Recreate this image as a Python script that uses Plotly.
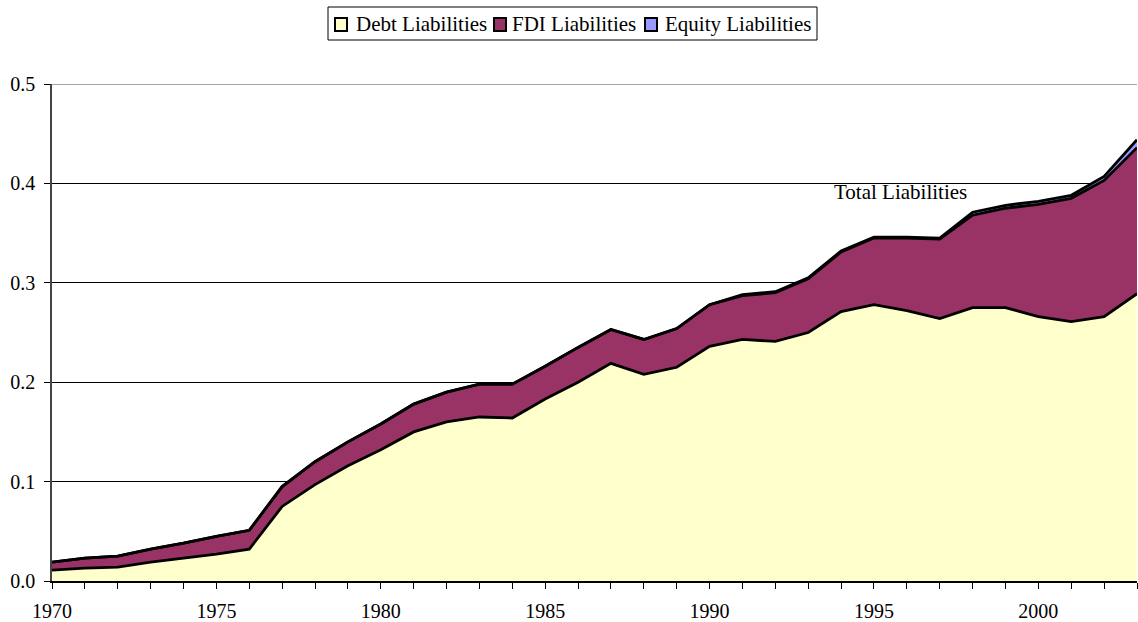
import plotly.graph_objects as go

years = list(range(1970, 2004))
debt = [0.011, 0.013, 0.014, 0.019, 0.023, 0.027, 0.032, 0.075, 0.097, 0.116,
        0.132, 0.150, 0.160, 0.165, 0.164, 0.183, 0.200, 0.219, 0.208, 0.215,
        0.236, 0.243, 0.241, 0.250, 0.271, 0.278, 0.272, 0.264, 0.275, 0.275,
        0.266, 0.261, 0.266, 0.289]
total_fdi_top = [0.019, 0.023, 0.025, 0.032, 0.038, 0.045, 0.051, 0.095, 0.120, 0.140,
                 0.158, 0.178, 0.190, 0.198, 0.198, 0.216, 0.235, 0.253, 0.243, 0.254,
                 0.278, 0.287, 0.290, 0.304, 0.331, 0.345, 0.345, 0.344, 0.368, 0.375,
                 0.379, 0.385, 0.403, 0.436]
fdi = [round(t - d, 4) for t, d in zip(total_fdi_top, debt)]
equity = [0.000, 0.000, 0.000, 0.000, 0.000, 0.000, 0.000, 0.000, 0.000, 0.000,
          0.000, 0.000, 0.000, 0.000, 0.000, 0.000, 0.000, 0.000, 0.000, 0.000,
          0.000, 0.001, 0.001, 0.001, 0.001, 0.001, 0.001, 0.001, 0.003, 0.003,
          0.003, 0.003, 0.004, 0.008]

names = ["Debt Liabilities", "FDI Liabilities", "Equity Liabilities"]
colors = ["#FFFFCC", "#993366", "#9999FF"]

font = "Liberation Serif, Times New Roman, serif"
W, H = 1138, 622
ML, MR, MT, MB = 52, 1, 84, 41
PW, PH = W - ML - MR, H - MT - MB


def px(x):
    return (x - ML) / PW


def py(y):
    return (H - MB - y) / PH


fig = go.Figure()
for name, vals, col in zip(names, [debt, fdi, equity], colors):
    fig.add_trace(go.Scatter(x=years, y=vals, name=name, stackgroup="one",
                             mode="lines", fillcolor=col, showlegend=False,
                             line=dict(color="black", width=2.8)))

fig.add_annotation(x=1995.8, y=0.391, text="Total Liabilities", showarrow=False,
                   font=dict(family=font, size=21, color="black"))

# legend drawn manually (box, swatches, labels)
fig.add_shape(type="rect", xref="paper", yref="paper", x0=px(328), x1=px(817),
              y0=py(40), y1=py(7), line=dict(color="black", width=1), fillcolor="white")
sw_left = [335, 494, 645]
txt_left = [354, 510, 663]
for name, col, sx, tx in zip(names, colors, sw_left, txt_left):
    fig.add_shape(type="rect", xref="paper", yref="paper", x0=px(sx), x1=px(sx + 12),
                  y0=py(31), y1=py(18), line=dict(color="black", width=2), fillcolor=col)
    fig.add_annotation(x=px(tx), y=py(24), xref="paper", yref="paper", text=name,
                       showarrow=False, xanchor="left", yanchor="middle",
                       font=dict(family=font, size=21, color="black"))

fig.update_layout(
    width=W, height=H,
    paper_bgcolor="white", plot_bgcolor="white",
    margin=dict(l=ML, r=MR, t=MT, b=MB, autoexpand=False),
    font=dict(family=font, size=20, color="black"),
    showlegend=False,
    xaxis=dict(range=[1970, 2003], tickmode="linear", tick0=1970, dtick=5,
               ticks="outside", ticklen=6, tickcolor="black", automargin=False,
               ticklabelstandoff=5,
               showline=True, linecolor="black", linewidth=1.5,
               showgrid=False, zeroline=False,
               minor=dict(dtick=1, tick0=1970, ticks="outside", ticklen=6, tickcolor="black")),
    yaxis=dict(range=[0, 0.5], tickmode="linear", tick0=0, dtick=0.1, tickformat=".1f",
               ticks="outside", ticklen=6, tickcolor="black", automargin=False,
               ticklabelstandoff=5,
               showline=True, linecolor="#444", linewidth=1.5,
               showgrid=True, gridcolor="black", gridwidth=1, zeroline=False),
)
fig.add_shape(type="line", xref="paper", yref="y", x0=0, x1=1, y0=0.5, y1=0.5,
              line=dict(color="#888", width=1.5))

fig.write_html("out.html", config={"displayModeBar": False},
               post_script="document.body.style.margin='0';")
